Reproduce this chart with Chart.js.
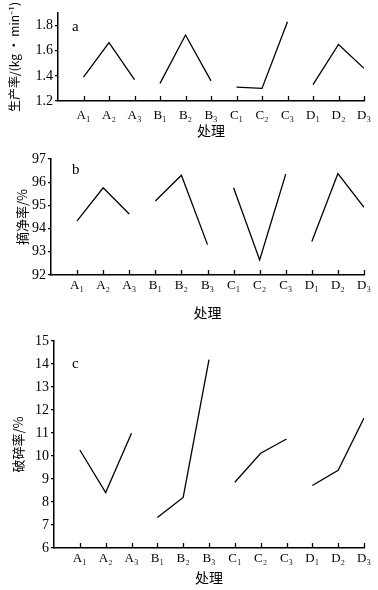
<!DOCTYPE html>
<html>
<head>
<meta charset="utf-8">
<script src="https://cdn.jsdelivr.net/npm/chart.js@4.4.0/dist/chart.umd.min.js"></script>
<style>
  html, body { margin: 0; padding: 0; background: #fff; }
  body { width: 378px; height: 590px; position: relative; overflow: hidden; }
  .panel { position: absolute; left: 0; width: 378px; }
</style>
</head>
<body>
<div class="panel" style="top:0;height:140px"><canvas id="chartA"></canvas></div>
<div class="panel" style="top:140px;height:185px"><canvas id="chartB"></canvas></div>
<div class="panel" style="top:325px;height:265px"><canvas id="chartC"></canvas></div>
<script>
// treatments on the x axis
const categories = ['A₁', 'A₂', 'A₃', 'B₁', 'B₂', 'B₃', 'C₁', 'C₂', 'C₃', 'D₁', 'D₂', 'D₃'];

// a: 生产率 (kg/min)
const productivity = [1.39, 1.665, 1.37, 1.34, 1.725, 1.36, 1.31, 1.30, 1.83, 1.33, 1.65, 1.46];
// b: 摘净率 (%)
const cleanRate = [94.33, 95.76, 94.63, 95.19, 96.30, 93.31, 95.76, 92.65, 96.35, 93.44, 96.37, 94.92];
// c: 破碎率 (%)
const breakageRate = [10.26, 8.41, 10.99, 7.33, 8.20, 14.19, 8.86, 10.12, 10.74, 8.72, 9.38, 11.65];

const serif = "'Liberation Serif', 'Noto Sans CJK SC', serif";
const cjk = "'Noto Sans CJK SC', 'Liberation Serif', serif";

// x ticks point up into the plot, drawn from the scale itself
const innerTicks = {
  id: 'innerTicks',
  afterDraw(chart) {
    const ctx = chart.ctx, xs = chart.scales.x, y0 = xs.top;
    ctx.save();
    ctx.strokeStyle = '#000';
    ctx.lineWidth = 1.3;
    xs.ticks.forEach(t => {
      const px = Math.round(xs.getPixelForValue(t.value)) + 0.5;
      ctx.beginPath();
      ctx.moveTo(px, y0);
      ctx.lineTo(px, y0 - 5);
      ctx.stroke();
    });
    // panel letter
    const o = chart.options.plugins.panelLabel;
    ctx.fillStyle = '#000';
    ctx.font = '15px ' + serif;
    ctx.textBaseline = 'middle';
    ctx.fillText(o.text, o.x, o.y);
    ctx.restore();
  }
};

function groups(values) {
  const sets = [];
  for (let g = 0; g < 4; g++) {
    sets.push({
      data: [0, 1, 2].map(k => ({ x: g * 3 + k + 1, y: values[g * 3 + k] })),
      borderColor: '#000',
      borderWidth: 1.3,
      pointRadius: 0,
      tension: 0,
      fill: false
    });
  }
  return sets;
}

function makeChart(id, values, cfg) {
  new Chart(document.getElementById(id), {
    type: 'line',
    data: { datasets: groups(values) },
    plugins: [innerTicks],
    options: {
      responsive: true,
      maintainAspectRatio: false,
      animation: false,
      layout: { padding: { top: cfg.top, right: 14, left: 0, bottom: 0 } },
      plugins: {
        legend: { display: false },
        tooltip: { enabled: false },
        panelLabel: cfg.label
      },
      scales: {
        x: {
          type: 'linear',
          min: 0,
          max: 12,
          afterBuildTicks: s => { s.ticks = categories.map((c, i) => ({ value: i + 1 })); },
          afterFit: s => { s.height = cfg.xHeight; },
          grid: { display: false, drawTicks: false, tickLength: 0 },
          border: { display: true, color: '#000', width: 1.5 },
          ticks: {
            autoSkip: false,
            maxRotation: 0,
            padding: cfg.xPad,
            color: '#000',
            font: { family: serif, size: 13 },
            callback: v => categories[v - 1] || ''
          },
          title: {
            display: true,
            text: '处理',
            color: '#000',
            font: { family: cjk, size: 14 },
            padding: { top: 0, bottom: cfg.xTitlePad }
          }
        },
        y: {
          min: cfg.min,
          max: cfg.max,
          afterFit: s => { s.width = cfg.yWidth; },
          grid: { display: true, drawOnChartArea: false, drawTicks: true, tickLength: 3, color: '#000', lineWidth: 1.3 },
          border: { display: true, color: '#000', width: 1.5 },
          ticks: {
            stepSize: cfg.step,
            includeBounds: false,
            padding: 2,
            color: '#000',
            font: { family: serif, size: 14 },
            callback: v => cfg.fmt(v)
          },
          title: {
            display: true,
            text: cfg.yTitle,
            color: '#000',
            font: { family: cjk, size: cfg.yTitleSize },
            padding: { top: cfg.yTitlePad, bottom: 0 }
          }
        }
      }
    }
  });
}

makeChart('chartA', productivity, {
  min: 1.2, max: 1.9, step: 0.2, fmt: v => v.toFixed(1),
  top: 13, yWidth: 58, xHeight: 39, xPad: 7, xTitlePad: 1, yTitlePad: 7, yTitleSize: 12,
  yTitle: '生产率/(kg · min⁻¹)',
  label: { text: 'a', x: 72, y: 27 }
});

makeChart('chartB', cleanRate, {
  min: 92, max: 97, step: 1, fmt: v => String(v),
  top: 19, yWidth: 51, xHeight: 50, xPad: 3, xTitlePad: 4, yTitlePad: 14, yTitleSize: 13,
  yTitle: '摘净率/%',
  label: { text: 'b', x: 72, y: 30 }
});

makeChart('chartC', breakageRate, {
  min: 6, max: 15, step: 1, fmt: v => String(v),
  top: 16, yWidth: 54, xHeight: 42, xPad: 3, xTitlePad: 4, yTitlePad: 10, yTitleSize: 13,
  yTitle: '破碎率/%',
  label: { text: 'c', x: 72, y: 39 }
});
</script>
</body>
</html>
